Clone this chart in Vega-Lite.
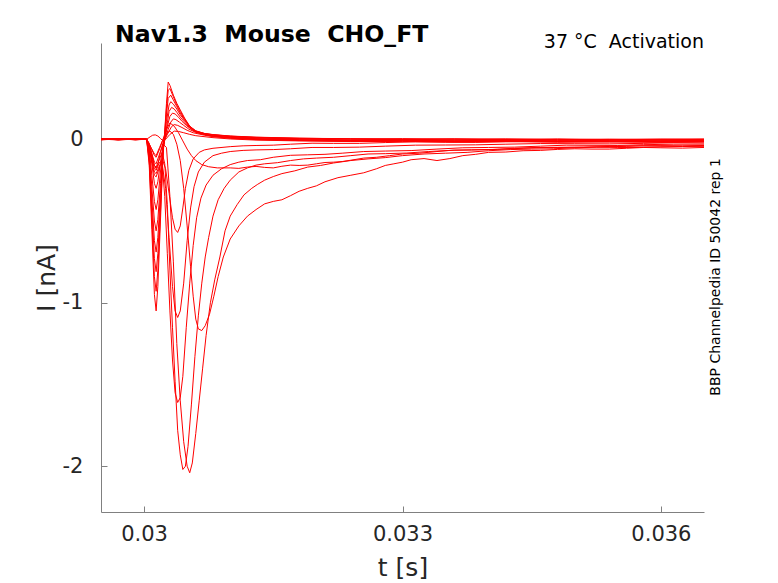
{
  "$schema": "https://vega.github.io/schema/vega-lite/v6.json",
  "width": 603,
  "height": 469,
  "autosize": {"type": "none"},
  "padding": {"left": 101, "top": 43, "right": 74, "bottom": 71},
  "background": "white",
  "title": {
    "text": "Nav1.3\u00a0 Mouse\u00a0 CHO_FT",
    "anchor": "start",
    "frame": "group",
    "dx": 14,
    "dy": 34,
    "offset": 1,
    "baseline": "alphabetic",
    "font": "DejaVu Sans",
    "fontSize": 23.6,
    "fontWeight": "bold",
    "color": "#000000"
  },
  "config": {
    "view": {"stroke": null},
    "axis": {
      "grid": false,
      "domainColor": "#808080",
      "tickColor": "#808080",
      "domainWidth": 1,
      "tickWidth": 1,
      "tickSize": -6,
      "labelColor": "#262626",
      "titleColor": "#262626",
      "labelFont": "DejaVu Sans",
      "titleFont": "DejaVu Sans",
      "labelFontSize": 21,
      "titleFontSize": 25,
      "titleFontWeight": "normal"
    }
  },
  "layer": [
    {
      "data": {
        "values": [
          {"s":"F1","t":0.0295,"i":0.004},{"s":"F1","t":0.0297,"i":-0.003},{"s":"F1","t":0.0299,"i":0.002},{"s":"F1","t":0.03003,"i":0.0},{"s":"F1","t":0.03006,"i":-0.16},{"s":"F1","t":0.03009,"i":-0.55},{"s":"F1","t":0.03012,"i":-0.95},{"s":"F1","t":0.03014,"i":-1.05},{"s":"F1","t":0.03016,"i":-0.9},{"s":"F1","t":0.03019,"i":-0.5},{"s":"F1","t":0.03022,"i":-0.1},{"s":"F1","t":0.03024,"i":0.05},{"s":"F1","t":0.03026,"i":0.22},{"s":"F1","t":0.03028,"i":0.35},{"s":"F1","t":0.0303,"i":0.33},{"s":"F1","t":0.03034,"i":0.27},{"s":"F1","t":0.03038,"i":0.22},{"s":"F1","t":0.03042,"i":0.18},{"s":"F1","t":0.03047,"i":0.13},{"s":"F1","t":0.03053,"i":0.08},{"s":"F1","t":0.0306,"i":0.05},{"s":"F1","t":0.0307,"i":0.035},{"s":"F1","t":0.0308,"i":0.028},{"s":"F1","t":0.031,"i":0.019},{"s":"F1","t":0.0313,"i":0.012},{"s":"F1","t":0.0318,"i":0.006},{"s":"F1","t":0.0324,"i":0.004},{"s":"F1","t":0.033,"i":0.001},{"s":"F1","t":0.0336,"i":0.003},{"s":"F1","t":0.0342,"i":-0.001},{"s":"F1","t":0.0348,"i":0.002},{"s":"F1","t":0.0354,"i":-0.002},{"s":"F1","t":0.036,"i":0.001},{"s":"F1","t":0.0365,"i":0.0},

          {"s":"F2","t":0.0295,"i":-0.002},{"s":"F2","t":0.0297,"i":0.003},{"s":"F2","t":0.0299,"i":-0.001},{"s":"F2","t":0.03003,"i":0.0},{"s":"F2","t":0.03006,"i":-0.14},{"s":"F2","t":0.03009,"i":-0.48},{"s":"F2","t":0.03012,"i":-0.84},{"s":"F2","t":0.03014,"i":-0.93},{"s":"F2","t":0.03016,"i":-0.8},{"s":"F2","t":0.03019,"i":-0.45},{"s":"F2","t":0.03022,"i":-0.09},{"s":"F2","t":0.03024,"i":0.04},{"s":"F2","t":0.03026,"i":0.19},{"s":"F2","t":0.03028,"i":0.3},{"s":"F2","t":0.0303,"i":0.31},{"s":"F2","t":0.03034,"i":0.26},{"s":"F2","t":0.03038,"i":0.21},{"s":"F2","t":0.03042,"i":0.17},{"s":"F2","t":0.03047,"i":0.125},{"s":"F2","t":0.03053,"i":0.08},{"s":"F2","t":0.0306,"i":0.052},{"s":"F2","t":0.0307,"i":0.036},{"s":"F2","t":0.0308,"i":0.029},{"s":"F2","t":0.031,"i":0.02},{"s":"F2","t":0.0313,"i":0.013},{"s":"F2","t":0.0318,"i":0.007},{"s":"F2","t":0.0324,"i":0.002},{"s":"F2","t":0.033,"i":0.004},{"s":"F2","t":0.0336,"i":0.0},{"s":"F2","t":0.0342,"i":0.003},{"s":"F2","t":0.0348,"i":-0.002},{"s":"F2","t":0.0354,"i":0.001},{"s":"F2","t":0.036,"i":-0.001},{"s":"F2","t":0.0365,"i":0.002},

          {"s":"F3","t":0.0295,"i":0.001},{"s":"F3","t":0.0297,"i":-0.004},{"s":"F3","t":0.0299,"i":0.002},{"s":"F3","t":0.03003,"i":-0.002},{"s":"F3","t":0.03006,"i":-0.12},{"s":"F3","t":0.03009,"i":-0.42},{"s":"F3","t":0.03012,"i":-0.73},{"s":"F3","t":0.03014,"i":-0.81},{"s":"F3","t":0.03016,"i":-0.7},{"s":"F3","t":0.03019,"i":-0.39},{"s":"F3","t":0.03022,"i":-0.08},{"s":"F3","t":0.03024,"i":0.03},{"s":"F3","t":0.03026,"i":0.15},{"s":"F3","t":0.03028,"i":0.25},{"s":"F3","t":0.03031,"i":0.27},{"s":"F3","t":0.03034,"i":0.24},{"s":"F3","t":0.03038,"i":0.2},{"s":"F3","t":0.03042,"i":0.16},{"s":"F3","t":0.03047,"i":0.12},{"s":"F3","t":0.03053,"i":0.078},{"s":"F3","t":0.0306,"i":0.05},{"s":"F3","t":0.0307,"i":0.035},{"s":"F3","t":0.0308,"i":0.027},{"s":"F3","t":0.031,"i":0.018},{"s":"F3","t":0.0313,"i":0.01},{"s":"F3","t":0.0318,"i":0.004},{"s":"F3","t":0.0324,"i":0.001},{"s":"F3","t":0.033,"i":-0.003},{"s":"F3","t":0.0336,"i":0.001},{"s":"F3","t":0.0342,"i":-0.004},{"s":"F3","t":0.0348,"i":0.0},{"s":"F3","t":0.0354,"i":-0.003},{"s":"F3","t":0.036,"i":0.0},{"s":"F3","t":0.0365,"i":-0.002},

          {"s":"F4","t":0.0295,"i":-0.003},{"s":"F4","t":0.0297,"i":0.002},{"s":"F4","t":0.0299,"i":-0.002},{"s":"F4","t":0.03003,"i":0.001},{"s":"F4","t":0.03006,"i":-0.1},{"s":"F4","t":0.03009,"i":-0.36},{"s":"F4","t":0.03012,"i":-0.62},{"s":"F4","t":0.03014,"i":-0.69},{"s":"F4","t":0.03016,"i":-0.6},{"s":"F4","t":0.03019,"i":-0.33},{"s":"F4","t":0.03022,"i":-0.07},{"s":"F4","t":0.03024,"i":0.02},{"s":"F4","t":0.03026,"i":0.11},{"s":"F4","t":0.03029,"i":0.21},{"s":"F4","t":0.03031,"i":0.23},{"s":"F4","t":0.03034,"i":0.215},{"s":"F4","t":0.03038,"i":0.185},{"s":"F4","t":0.03042,"i":0.15},{"s":"F4","t":0.03047,"i":0.115},{"s":"F4","t":0.03053,"i":0.075},{"s":"F4","t":0.0306,"i":0.048},{"s":"F4","t":0.0307,"i":0.033},{"s":"F4","t":0.0308,"i":0.025},{"s":"F4","t":0.031,"i":0.015},{"s":"F4","t":0.0313,"i":0.007},{"s":"F4","t":0.0318,"i":0.002},{"s":"F4","t":0.0324,"i":-0.004},{"s":"F4","t":0.033,"i":-0.002},{"s":"F4","t":0.0336,"i":-0.006},{"s":"F4","t":0.0342,"i":-0.003},{"s":"F4","t":0.0348,"i":-0.007},{"s":"F4","t":0.0354,"i":-0.004},{"s":"F4","t":0.036,"i":-0.006},{"s":"F4","t":0.0365,"i":-0.004},

          {"s":"F5","t":0.0295,"i":0.002},{"s":"F5","t":0.0297,"i":-0.001},{"s":"F5","t":0.0299,"i":0.003},{"s":"F5","t":0.03003,"i":0.0},{"s":"F5","t":0.03006,"i":-0.08},{"s":"F5","t":0.03009,"i":-0.29},{"s":"F5","t":0.03012,"i":-0.5},{"s":"F5","t":0.03014,"i":-0.56},{"s":"F5","t":0.03016,"i":-0.49},{"s":"F5","t":0.03019,"i":-0.27},{"s":"F5","t":0.03022,"i":-0.06},{"s":"F5","t":0.03024,"i":0.01},{"s":"F5","t":0.03027,"i":0.1},{"s":"F5","t":0.03029,"i":0.17},{"s":"F5","t":0.03032,"i":0.195},{"s":"F5","t":0.03035,"i":0.185},{"s":"F5","t":0.03038,"i":0.165},{"s":"F5","t":0.03042,"i":0.135},{"s":"F5","t":0.03047,"i":0.105},{"s":"F5","t":0.03053,"i":0.07},{"s":"F5","t":0.0306,"i":0.045},{"s":"F5","t":0.0307,"i":0.03},{"s":"F5","t":0.0308,"i":0.022},{"s":"F5","t":0.031,"i":0.012},{"s":"F5","t":0.0313,"i":0.004},{"s":"F5","t":0.0318,"i":-0.002},{"s":"F5","t":0.0324,"i":-0.006},{"s":"F5","t":0.033,"i":-0.004},{"s":"F5","t":0.0336,"i":-0.009},{"s":"F5","t":0.0342,"i":-0.005},{"s":"F5","t":0.0348,"i":-0.01},{"s":"F5","t":0.0354,"i":-0.006},{"s":"F5","t":0.036,"i":-0.009},{"s":"F5","t":0.0365,"i":-0.007},

          {"s":"F6","t":0.0295,"i":-0.001},{"s":"F6","t":0.0297,"i":0.003},{"s":"F6","t":0.0299,"i":-0.003},{"s":"F6","t":0.03003,"i":0.001},{"s":"F6","t":0.03006,"i":-0.06},{"s":"F6","t":0.03009,"i":-0.22},{"s":"F6","t":0.03012,"i":-0.38},{"s":"F6","t":0.03014,"i":-0.43},{"s":"F6","t":0.03016,"i":-0.37},{"s":"F6","t":0.03019,"i":-0.2},{"s":"F6","t":0.03022,"i":-0.05},{"s":"F6","t":0.03025,"i":0.02},{"s":"F6","t":0.03027,"i":0.08},{"s":"F6","t":0.0303,"i":0.14},{"s":"F6","t":0.03033,"i":0.16},{"s":"F6","t":0.03036,"i":0.155},{"s":"F6","t":0.0304,"i":0.135},{"s":"F6","t":0.03044,"i":0.11},{"s":"F6","t":0.03049,"i":0.085},{"s":"F6","t":0.03055,"i":0.06},{"s":"F6","t":0.0306,"i":0.045},{"s":"F6","t":0.0307,"i":0.03},{"s":"F6","t":0.0308,"i":0.02},{"s":"F6","t":0.031,"i":0.01},{"s":"F6","t":0.0313,"i":0.002},{"s":"F6","t":0.0318,"i":-0.004},{"s":"F6","t":0.0324,"i":-0.008},{"s":"F6","t":0.033,"i":-0.006},{"s":"F6","t":0.0336,"i":-0.011},{"s":"F6","t":0.0342,"i":-0.008},{"s":"F6","t":0.0348,"i":-0.012},{"s":"F6","t":0.0354,"i":-0.009},{"s":"F6","t":0.036,"i":-0.012},{"s":"F6","t":0.0365,"i":-0.01},

          {"s":"F7","t":0.0295,"i":0.003},{"s":"F7","t":0.0297,"i":-0.002},{"s":"F7","t":0.0299,"i":0.001},{"s":"F7","t":0.03003,"i":-0.001},{"s":"F7","t":0.03006,"i":-0.04},{"s":"F7","t":0.03009,"i":-0.15},{"s":"F7","t":0.03012,"i":-0.27},{"s":"F7","t":0.03014,"i":-0.3},{"s":"F7","t":0.03016,"i":-0.26},{"s":"F7","t":0.03019,"i":-0.14},{"s":"F7","t":0.03022,"i":-0.04},{"s":"F7","t":0.03025,"i":0.01},{"s":"F7","t":0.03028,"i":0.06},{"s":"F7","t":0.03031,"i":0.105},{"s":"F7","t":0.03034,"i":0.125},{"s":"F7","t":0.03037,"i":0.12},{"s":"F7","t":0.03041,"i":0.105},{"s":"F7","t":0.03046,"i":0.085},{"s":"F7","t":0.03052,"i":0.062},{"s":"F7","t":0.0306,"i":0.042},{"s":"F7","t":0.0307,"i":0.028},{"s":"F7","t":0.0308,"i":0.018},{"s":"F7","t":0.031,"i":0.008},{"s":"F7","t":0.0313,"i":0.0},{"s":"F7","t":0.0318,"i":-0.006},{"s":"F7","t":0.0324,"i":-0.01},{"s":"F7","t":0.033,"i":-0.009},{"s":"F7","t":0.0336,"i":-0.013},{"s":"F7","t":0.0342,"i":-0.01},{"s":"F7","t":0.0348,"i":-0.014},{"s":"F7","t":0.0354,"i":-0.011},{"s":"F7","t":0.036,"i":-0.015},{"s":"F7","t":0.0365,"i":-0.012},

          {"s":"F8","t":0.0295,"i":-0.002},{"s":"F8","t":0.0297,"i":0.001},{"s":"F8","t":0.0299,"i":-0.002},{"s":"F8","t":0.03003,"i":0.0},{"s":"F8","t":0.03006,"i":-0.025},{"s":"F8","t":0.03009,"i":-0.09},{"s":"F8","t":0.03012,"i":-0.16},{"s":"F8","t":0.03014,"i":-0.18},{"s":"F8","t":0.03016,"i":-0.155},{"s":"F8","t":0.03019,"i":-0.08},{"s":"F8","t":0.03022,"i":-0.02},{"s":"F8","t":0.03025,"i":0.01},{"s":"F8","t":0.03029,"i":0.05},{"s":"F8","t":0.03032,"i":0.078},{"s":"F8","t":0.03035,"i":0.09},{"s":"F8","t":0.03039,"i":0.085},{"s":"F8","t":0.03044,"i":0.072},{"s":"F8","t":0.0305,"i":0.055},{"s":"F8","t":0.03057,"i":0.04},{"s":"F8","t":0.0307,"i":0.025},{"s":"F8","t":0.0308,"i":0.016},{"s":"F8","t":0.031,"i":0.006},{"s":"F8","t":0.0313,"i":-0.002},{"s":"F8","t":0.0318,"i":-0.008},{"s":"F8","t":0.0324,"i":-0.012},{"s":"F8","t":0.033,"i":-0.011},{"s":"F8","t":0.0336,"i":-0.015},{"s":"F8","t":0.0342,"i":-0.012},{"s":"F8","t":0.0348,"i":-0.016},{"s":"F8","t":0.0354,"i":-0.013},{"s":"F8","t":0.036,"i":-0.017},{"s":"F8","t":0.0365,"i":-0.014},

          {"s":"F9","t":0.0295,"i":0.002},{"s":"F9","t":0.0297,"i":-0.003},{"s":"F9","t":0.0299,"i":0.0},{"s":"F9","t":0.03003,"i":0.0},{"s":"F9","t":0.03007,"i":0.015},{"s":"F9","t":0.0301,"i":0.025},{"s":"F9","t":0.03013,"i":0.027},{"s":"F9","t":0.03016,"i":0.02},{"s":"F9","t":0.03019,"i":0.005},{"s":"F9","t":0.03022,"i":-0.01},{"s":"F9","t":0.03025,"i":0.0},{"s":"F9","t":0.0303,"i":0.03},{"s":"F9","t":0.03035,"i":0.05},{"s":"F9","t":0.0304,"i":0.048},{"s":"F9","t":0.03046,"i":0.04},{"s":"F9","t":0.03053,"i":0.03},{"s":"F9","t":0.0306,"i":0.022},{"s":"F9","t":0.0308,"i":0.01},{"s":"F9","t":0.031,"i":0.002},{"s":"F9","t":0.0313,"i":-0.005},{"s":"F9","t":0.0318,"i":-0.01},{"s":"F9","t":0.0324,"i":-0.014},{"s":"F9","t":0.033,"i":-0.013},{"s":"F9","t":0.0336,"i":-0.017},{"s":"F9","t":0.0342,"i":-0.014},{"s":"F9","t":0.0348,"i":-0.018},{"s":"F9","t":0.0354,"i":-0.016},{"s":"F9","t":0.036,"i":-0.019},{"s":"F9","t":0.0365,"i":-0.017},

          {"s":"H","t":0.0295,"i":0.001},{"s":"H","t":0.0297,"i":-0.002},{"s":"H","t":0.0299,"i":0.003},{"s":"H","t":0.03003,"i":0.0},{"s":"H","t":0.03008,"i":-0.05},{"s":"H","t":0.03012,"i":-0.09},{"s":"H","t":0.03014,"i":-0.1},{"s":"H","t":0.03018,"i":-0.05},{"s":"H","t":0.03022,"i":0.0},{"s":"H","t":0.03026,"i":0.06},{"s":"H","t":0.0303,"i":0.1},{"s":"H","t":0.03035,"i":0.08},{"s":"H","t":0.0304,"i":0.04},{"s":"H","t":0.03045,"i":-0.01},{"s":"H","t":0.0305,"i":-0.06},{"s":"H","t":0.03055,"i":-0.1},{"s":"H","t":0.0306,"i":-0.13},{"s":"H","t":0.03067,"i":-0.155},{"s":"H","t":0.03075,"i":-0.168},{"s":"H","t":0.03085,"i":-0.175},{"s":"H","t":0.031,"i":-0.175},{"s":"H","t":0.0311,"i":-0.178},{"s":"H","t":0.0312,"i":-0.17},{"s":"H","t":0.0313,"i":-0.166},{"s":"H","t":0.0314,"i":-0.172},{"s":"H","t":0.0315,"i":-0.175},{"s":"H","t":0.0316,"i":-0.165},{"s":"H","t":0.0317,"i":-0.158},{"s":"H","t":0.0318,"i":-0.16},{"s":"H","t":0.0319,"i":-0.158},{"s":"H","t":0.032,"i":-0.15},{"s":"H","t":0.0321,"i":-0.142},{"s":"H","t":0.0322,"i":-0.14},{"s":"H","t":0.0323,"i":-0.136},{"s":"H","t":0.0324,"i":-0.128},{"s":"H","t":0.03255,"i":-0.115},{"s":"H","t":0.0327,"i":-0.11},{"s":"H","t":0.03285,"i":-0.1},{"s":"H","t":0.033,"i":-0.09},{"s":"H","t":0.0332,"i":-0.085},{"s":"H","t":0.0334,"i":-0.075},{"s":"H","t":0.0336,"i":-0.066},{"s":"H","t":0.0338,"i":-0.065},{"s":"H","t":0.03405,"i":-0.062},{"s":"H","t":0.0343,"i":-0.055},{"s":"H","t":0.03455,"i":-0.05},{"s":"H","t":0.0348,"i":-0.05},{"s":"H","t":0.0351,"i":-0.049},{"s":"H","t":0.0354,"i":-0.044},{"s":"H","t":0.0357,"i":-0.04},{"s":"H","t":0.036,"i":-0.04},{"s":"H","t":0.03625,"i":-0.041},{"s":"H","t":0.0365,"i":-0.038},

          {"s":"M1","t":0.0295,"i":-0.002},{"s":"M1","t":0.0297,"i":0.002},{"s":"M1","t":0.0299,"i":0.0},{"s":"M1","t":0.03003,"i":0.0},{"s":"M1","t":0.03008,"i":-0.11},{"s":"M1","t":0.03012,"i":-0.22},{"s":"M1","t":0.03014,"i":-0.23},{"s":"M1","t":0.03018,"i":-0.17},{"s":"M1","t":0.03021,"i":-0.12},{"s":"M1","t":0.03025,"i":-0.18},{"s":"M1","t":0.03029,"i":-0.33},{"s":"M1","t":0.03033,"i":-0.48},{"s":"M1","t":0.03036,"i":-0.55},{"s":"M1","t":0.03039,"i":-0.57},{"s":"M1","t":0.03042,"i":-0.53},{"s":"M1","t":0.03045,"i":-0.42},{"s":"M1","t":0.03048,"i":-0.3},{"s":"M1","t":0.03052,"i":-0.19},{"s":"M1","t":0.03057,"i":-0.12},{"s":"M1","t":0.03064,"i":-0.08},{"s":"M1","t":0.0307,"i":-0.065},{"s":"M1","t":0.0308,"i":-0.055},{"s":"M1","t":0.031,"i":-0.045},{"s":"M1","t":0.03115,"i":-0.04},{"s":"M1","t":0.0313,"i":-0.038},{"s":"M1","t":0.0315,"i":-0.036},{"s":"M1","t":0.0317,"i":-0.03},{"s":"M1","t":0.03195,"i":-0.024},{"s":"M1","t":0.0322,"i":-0.025},{"s":"M1","t":0.0325,"i":-0.025},{"s":"M1","t":0.0328,"i":-0.02},{"s":"M1","t":0.03315,"i":-0.016},{"s":"M1","t":0.0335,"i":-0.018},{"s":"M1","t":0.03385,"i":-0.019},{"s":"M1","t":0.0342,"i":-0.015},{"s":"M1","t":0.0346,"i":-0.012},{"s":"M1","t":0.035,"i":-0.014},{"s":"M1","t":0.0354,"i":-0.016},{"s":"M1","t":0.0358,"i":-0.013},{"s":"M1","t":0.03615,"i":-0.01},{"s":"M1","t":0.0365,"i":-0.012},

          {"s":"M2","t":0.0295,"i":0.003},{"s":"M2","t":0.0297,"i":-0.001},{"s":"M2","t":0.0299,"i":0.002},{"s":"M2","t":0.03003,"i":0.0},{"s":"M2","t":0.03008,"i":-0.1},{"s":"M2","t":0.03012,"i":-0.2},{"s":"M2","t":0.03014,"i":-0.21},{"s":"M2","t":0.03018,"i":-0.16},{"s":"M2","t":0.03021,"i":-0.15},{"s":"M2","t":0.03025,"i":-0.3},{"s":"M2","t":0.03029,"i":-0.6},{"s":"M2","t":0.03033,"i":-0.9},{"s":"M2","t":0.03036,"i":-1.05},{"s":"M2","t":0.03039,"i":-1.09},{"s":"M2","t":0.03042,"i":-1.05},{"s":"M2","t":0.03046,"i":-0.88},{"s":"M2","t":0.0305,"i":-0.62},{"s":"M2","t":0.03054,"i":-0.42},{"s":"M2","t":0.03058,"i":-0.29},{"s":"M2","t":0.03063,"i":-0.2},{"s":"M2","t":0.0307,"i":-0.14},{"s":"M2","t":0.0308,"i":-0.1},{"s":"M2","t":0.0309,"i":-0.085},{"s":"M2","t":0.031,"i":-0.075},{"s":"M2","t":0.03115,"i":-0.068},{"s":"M2","t":0.0313,"i":-0.065},{"s":"M2","t":0.0315,"i":-0.063},{"s":"M2","t":0.0317,"i":-0.058},{"s":"M2","t":0.03195,"i":-0.05},{"s":"M2","t":0.0322,"i":-0.05},{"s":"M2","t":0.0325,"i":-0.048},{"s":"M2","t":0.0328,"i":-0.042},{"s":"M2","t":0.03315,"i":-0.036},{"s":"M2","t":0.0335,"i":-0.035},{"s":"M2","t":0.03385,"i":-0.034},{"s":"M2","t":0.0342,"i":-0.03},{"s":"M2","t":0.0346,"i":-0.026},{"s":"M2","t":0.035,"i":-0.027},{"s":"M2","t":0.0354,"i":-0.028},{"s":"M2","t":0.0358,"i":-0.025},{"s":"M2","t":0.03615,"i":-0.021},{"s":"M2","t":0.0365,"i":-0.023},

          {"s":"M3","t":0.0295,"i":-0.001},{"s":"M3","t":0.0297,"i":0.002},{"s":"M3","t":0.0299,"i":-0.003},{"s":"M3","t":0.03003,"i":0.0},{"s":"M3","t":0.03008,"i":-0.09},{"s":"M3","t":0.03012,"i":-0.18},{"s":"M3","t":0.03014,"i":-0.19},{"s":"M3","t":0.03018,"i":-0.14},{"s":"M3","t":0.03021,"i":-0.15},{"s":"M3","t":0.03024,"i":-0.35},{"s":"M3","t":0.03027,"i":-0.7},{"s":"M3","t":0.0303,"i":-1.05},{"s":"M3","t":0.03033,"i":-1.35},{"s":"M3","t":0.03036,"i":-1.55},{"s":"M3","t":0.03039,"i":-1.61},{"s":"M3","t":0.03042,"i":-1.58},{"s":"M3","t":0.03045,"i":-1.45},{"s":"M3","t":0.03049,"i":-1.15},{"s":"M3","t":0.03053,"i":-0.88},{"s":"M3","t":0.03057,"i":-0.65},{"s":"M3","t":0.03061,"i":-0.48},{"s":"M3","t":0.03066,"i":-0.36},{"s":"M3","t":0.03072,"i":-0.28},{"s":"M3","t":0.0308,"i":-0.22},{"s":"M3","t":0.0309,"i":-0.18},{"s":"M3","t":0.031,"i":-0.155},{"s":"M3","t":0.0311,"i":-0.14},{"s":"M3","t":0.0312,"i":-0.13},{"s":"M3","t":0.03135,"i":-0.125},{"s":"M3","t":0.0315,"i":-0.11},{"s":"M3","t":0.0317,"i":-0.098},{"s":"M3","t":0.0319,"i":-0.095},{"s":"M3","t":0.0321,"i":-0.092},{"s":"M3","t":0.0323,"i":-0.085},{"s":"M3","t":0.03255,"i":-0.075},{"s":"M3","t":0.0328,"i":-0.072},{"s":"M3","t":0.0331,"i":-0.069},{"s":"M3","t":0.0334,"i":-0.06},{"s":"M3","t":0.0337,"i":-0.052},{"s":"M3","t":0.034,"i":-0.05},{"s":"M3","t":0.0343,"i":-0.048},{"s":"M3","t":0.0346,"i":-0.042},{"s":"M3","t":0.0349,"i":-0.036},{"s":"M3","t":0.0352,"i":-0.037},{"s":"M3","t":0.0355,"i":-0.038},{"s":"M3","t":0.0358,"i":-0.033},{"s":"M3","t":0.03615,"i":-0.03},{"s":"M3","t":0.0365,"i":-0.03},

          {"s":"M4","t":0.0295,"i":0.002},{"s":"M4","t":0.0297,"i":-0.002},{"s":"M4","t":0.0299,"i":0.001},{"s":"M4","t":0.03003,"i":0.0},{"s":"M4","t":0.03008,"i":-0.08},{"s":"M4","t":0.03012,"i":-0.16},{"s":"M4","t":0.03014,"i":-0.17},{"s":"M4","t":0.03018,"i":-0.12},{"s":"M4","t":0.03021,"i":-0.08},{"s":"M4","t":0.03024,"i":-0.15},{"s":"M4","t":0.03027,"i":-0.4},{"s":"M4","t":0.0303,"i":-0.8},{"s":"M4","t":0.03033,"i":-1.15},{"s":"M4","t":0.03036,"i":-1.48},{"s":"M4","t":0.03039,"i":-1.78},{"s":"M4","t":0.03042,"i":-1.93},{"s":"M4","t":0.03045,"i":-2.02},{"s":"M4","t":0.03048,"i":-2.0},{"s":"M4","t":0.03051,"i":-1.88},{"s":"M4","t":0.03055,"i":-1.62},{"s":"M4","t":0.03059,"i":-1.33},{"s":"M4","t":0.03063,"i":-1.08},{"s":"M4","t":0.03067,"i":-0.88},{"s":"M4","t":0.03071,"i":-0.72},{"s":"M4","t":0.03075,"i":-0.6},{"s":"M4","t":0.0308,"i":-0.47},{"s":"M4","t":0.03086,"i":-0.37},{"s":"M4","t":0.03093,"i":-0.3},{"s":"M4","t":0.031,"i":-0.25},{"s":"M4","t":0.0311,"i":-0.2},{"s":"M4","t":0.0312,"i":-0.175},{"s":"M4","t":0.0313,"i":-0.158},{"s":"M4","t":0.0314,"i":-0.15},{"s":"M4","t":0.03155,"i":-0.143},{"s":"M4","t":0.0317,"i":-0.13},{"s":"M4","t":0.03185,"i":-0.12},{"s":"M4","t":0.032,"i":-0.115},{"s":"M4","t":0.0322,"i":-0.11},{"s":"M4","t":0.0324,"i":-0.1},{"s":"M4","t":0.0326,"i":-0.09},{"s":"M4","t":0.0328,"i":-0.088},{"s":"M4","t":0.03305,"i":-0.084},{"s":"M4","t":0.0333,"i":-0.075},{"s":"M4","t":0.03355,"i":-0.068},{"s":"M4","t":0.0338,"i":-0.065},{"s":"M4","t":0.0341,"i":-0.062},{"s":"M4","t":0.0344,"i":-0.055},{"s":"M4","t":0.0347,"i":-0.05},{"s":"M4","t":0.035,"i":-0.048},{"s":"M4","t":0.0353,"i":-0.047},{"s":"M4","t":0.0356,"i":-0.043},{"s":"M4","t":0.0358,"i":-0.04},{"s":"M4","t":0.036,"i":-0.04},{"s":"M4","t":0.03625,"i":-0.041},{"s":"M4","t":0.0365,"i":-0.038},

          {"s":"M5","t":0.0295,"i":-0.003},{"s":"M5","t":0.0297,"i":0.001},{"s":"M5","t":0.0299,"i":0.003},{"s":"M5","t":0.03003,"i":0.0},{"s":"M5","t":0.03008,"i":-0.07},{"s":"M5","t":0.03012,"i":-0.14},{"s":"M5","t":0.03014,"i":-0.15},{"s":"M5","t":0.03018,"i":-0.09},{"s":"M5","t":0.03022,"i":-0.03},{"s":"M5","t":0.03026,"i":-0.05},{"s":"M5","t":0.0303,"i":-0.35},{"s":"M5","t":0.03034,"i":-0.75},{"s":"M5","t":0.03038,"i":-1.25},{"s":"M5","t":0.03042,"i":-1.6},{"s":"M5","t":0.03046,"i":-1.85},{"s":"M5","t":0.0305,"i":-2.0},{"s":"M5","t":0.03053,"i":-2.04},{"s":"M5","t":0.03056,"i":-1.98},{"s":"M5","t":0.0306,"i":-1.8},{"s":"M5","t":0.03064,"i":-1.6},{"s":"M5","t":0.03068,"i":-1.4},{"s":"M5","t":0.03072,"i":-1.2},{"s":"M5","t":0.03077,"i":-1.0},{"s":"M5","t":0.03082,"i":-0.86},{"s":"M5","t":0.03088,"i":-0.72},{"s":"M5","t":0.03094,"i":-0.56},{"s":"M5","t":0.031,"i":-0.47},{"s":"M5","t":0.03108,"i":-0.4},{"s":"M5","t":0.03116,"i":-0.34},{"s":"M5","t":0.03125,"i":-0.3},{"s":"M5","t":0.03132,"i":-0.275},{"s":"M5","t":0.0314,"i":-0.25},{"s":"M5","t":0.0315,"i":-0.228},{"s":"M5","t":0.0316,"i":-0.21},{"s":"M5","t":0.03175,"i":-0.193},{"s":"M5","t":0.0319,"i":-0.17},{"s":"M5","t":0.03205,"i":-0.16},{"s":"M5","t":0.0322,"i":-0.145},{"s":"M5","t":0.0324,"i":-0.13},{"s":"M5","t":0.0326,"i":-0.12},{"s":"M5","t":0.0328,"i":-0.112},{"s":"M5","t":0.033,"i":-0.1},{"s":"M5","t":0.03325,"i":-0.09},{"s":"M5","t":0.0335,"i":-0.085},{"s":"M5","t":0.03375,"i":-0.08},{"s":"M5","t":0.034,"i":-0.07},{"s":"M5","t":0.03425,"i":-0.063},{"s":"M5","t":0.0345,"i":-0.06},{"s":"M5","t":0.03475,"i":-0.058},{"s":"M5","t":0.035,"i":-0.052},{"s":"M5","t":0.03525,"i":-0.048},{"s":"M5","t":0.0355,"i":-0.05},{"s":"M5","t":0.03575,"i":-0.05},{"s":"M5","t":0.036,"i":-0.046},{"s":"M5","t":0.03625,"i":-0.044},{"s":"M5","t":0.0365,"i":-0.045},

          {"s":"M6","t":0.0295,"i":0.0},{"s":"M6","t":0.0297,"i":0.003},{"s":"M6","t":0.0299,"i":-0.002},{"s":"M6","t":0.03003,"i":0.0},{"s":"M6","t":0.03008,"i":-0.05},{"s":"M6","t":0.03012,"i":-0.1},{"s":"M6","t":0.03014,"i":-0.11},{"s":"M6","t":0.03018,"i":-0.06},{"s":"M6","t":0.03022,"i":0.0},{"s":"M6","t":0.03027,"i":0.04},{"s":"M6","t":0.0303,"i":0.05},{"s":"M6","t":0.03034,"i":0.03},{"s":"M6","t":0.03038,"i":-0.03},{"s":"M6","t":0.03042,"i":-0.13},{"s":"M6","t":0.03046,"i":-0.3},{"s":"M6","t":0.0305,"i":-0.53},{"s":"M6","t":0.03054,"i":-0.78},{"s":"M6","t":0.03057,"i":-0.96},{"s":"M6","t":0.0306,"i":-1.1},{"s":"M6","t":0.03063,"i":-1.16},{"s":"M6","t":0.03067,"i":-1.17},{"s":"M6","t":0.03071,"i":-1.14},{"s":"M6","t":0.03076,"i":-1.07},{"s":"M6","t":0.03081,"i":-0.96},{"s":"M6","t":0.03086,"i":-0.84},{"s":"M6","t":0.03092,"i":-0.72},{"s":"M6","t":0.031,"i":-0.61},{"s":"M6","t":0.0311,"i":-0.53},{"s":"M6","t":0.0312,"i":-0.47},{"s":"M6","t":0.0313,"i":-0.43},{"s":"M6","t":0.0314,"i":-0.395},{"s":"M6","t":0.0315,"i":-0.38},{"s":"M6","t":0.0316,"i":-0.37},{"s":"M6","t":0.0317,"i":-0.345},{"s":"M6","t":0.0318,"i":-0.318},{"s":"M6","t":0.0319,"i":-0.3},{"s":"M6","t":0.032,"i":-0.285},{"s":"M6","t":0.0321,"i":-0.26},{"s":"M6","t":0.03225,"i":-0.235},{"s":"M6","t":0.0324,"i":-0.22},{"s":"M6","t":0.03255,"i":-0.205},{"s":"M6","t":0.0327,"i":-0.18},{"s":"M6","t":0.0328,"i":-0.16},{"s":"M6","t":0.0329,"i":-0.15},{"s":"M6","t":0.033,"i":-0.14},{"s":"M6","t":0.0331,"i":-0.125},{"s":"M6","t":0.03325,"i":-0.118},{"s":"M6","t":0.0334,"i":-0.13},{"s":"M6","t":0.03355,"i":-0.118},{"s":"M6","t":0.0337,"i":-0.1},{"s":"M6","t":0.03385,"i":-0.092},{"s":"M6","t":0.034,"i":-0.08},{"s":"M6","t":0.0342,"i":-0.078},{"s":"M6","t":0.0344,"i":-0.07},{"s":"M6","t":0.0346,"i":-0.068},{"s":"M6","t":0.0348,"i":-0.062},{"s":"M6","t":0.035,"i":-0.058},{"s":"M6","t":0.0352,"i":-0.06},{"s":"M6","t":0.0354,"i":-0.06},{"s":"M6","t":0.0356,"i":-0.055},{"s":"M6","t":0.0358,"i":-0.05},{"s":"M6","t":0.036,"i":-0.052},{"s":"M6","t":0.03625,"i":-0.054},{"s":"M6","t":0.0365,"i":-0.05}
        ]
      },
      "mark": {"type": "line", "color": "#ff0000", "strokeWidth": 1, "clip": true},
      "encoding": {
        "x": {
          "field": "t",
          "type": "quantitative",
          "scale": {"domain": [0.0295, 0.0365], "nice": false, "zero": false},
          "axis": {"values": [0.03, 0.033, 0.036], "format": "~g", "title": "t [s]", "labelPadding": 17, "titlePadding": 11}
        },
        "y": {
          "field": "i",
          "type": "quantitative",
          "scale": {"domain": [-2.28, 0.589], "nice": false, "zero": false},
          "axis": {
            "values": [-2, -1, 0],
            "labelExpr": "datum.value < 0 ? '-' + format(-datum.value, 'd') : format(datum.value, 'd')",
            "title": "I [nA]",
            "labelPadding": 24,
            "titlePadding": 3
          }
        },
        "detail": {"field": "s"}
      }
    },
    {
      "data": {"values": [{}]},
      "mark": {"type": "text", "text": "37 °C\u00a0 Activation", "align": "right", "baseline": "alphabetic", "font": "DejaVu Sans", "fontSize": 19, "color": "#000000"},
      "encoding": {
        "x": {"datum": 0.0365, "type": "quantitative"},
        "y": {"datum": 0.558, "type": "quantitative"}
      }
    },
    {
      "data": {"values": [{}]},
      "mark": {"type": "text", "text": "BBP Channelpedia ID 50042 rep 1", "angle": 270, "align": "center", "baseline": "middle", "font": "DejaVu Sans", "fontSize": 14, "color": "#000000"},
      "encoding": {
        "x": {"datum": 0.03664, "type": "quantitative"},
        "y": {"datum": -0.842, "type": "quantitative"}
      }
    }
  ]
}
